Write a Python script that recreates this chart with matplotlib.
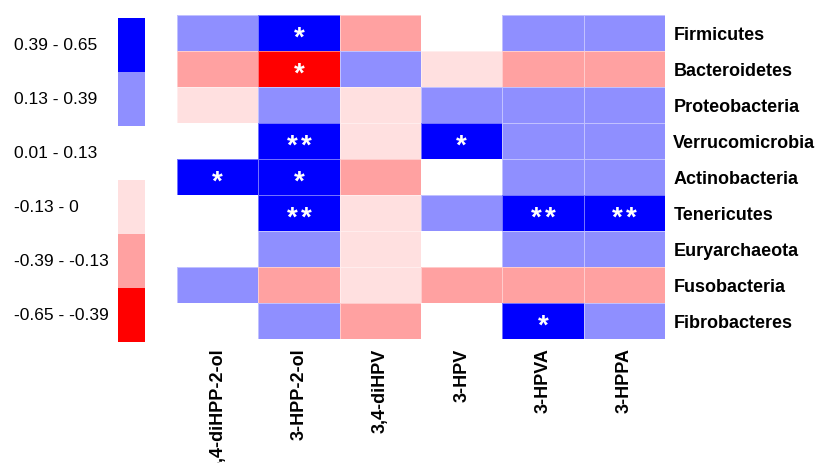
import matplotlib
matplotlib.use("Agg")
import matplotlib.pyplot as plt
import numpy as np
from matplotlib.colors import ListedColormap, BoundaryNorm

plt.rcParams['font.family'] = ['Liberation Sans', 'DejaVu Sans']

phyla = ["Firmicutes", "Bacteroidetes", "Proteobacteria", "Verrucomicrobia",
         "Actinobacteria", "Tenericutes", "Euryarchaeota", "Fusobacteria",
         "Fibrobacteres"]
metabolites = ["3,4-diHPP-2-ol", "3-HPP-2-ol", "3,4-diHPV", "3-HPV",
               "3-HPVA", "3-HPPA"]

# Spearman correlation, one row per phylum (columns follow `metabolites`)
rho_firmicutes = [0.22, 0.45, -0.21, 0.05, 0.24, 0.27]
rho_bacteroidetes = [-0.24, -0.47, 0.19, -0.08, -0.22, -0.26]
rho_proteobacteria = [-0.07, 0.28, -0.05, 0.21, 0.26, 0.23]
rho_verrucomicrobia = [0.06, 0.52, -0.09, 0.43, 0.31, 0.29]
rho_actinobacteria = [0.41, 0.44, -0.19, 0.08, 0.25, 0.27]
rho_tenericutes = [0.09, 0.53, -0.04, 0.24, 0.55, 0.54]
rho_euryarchaeota = [0.03, 0.22, -0.06, 0.07, 0.20, 0.24]
rho_fusobacteria = [0.17, -0.20, -0.10, -0.23, -0.28, -0.25]
rho_fibrobacteres = [0.04, 0.18, -0.24, 0.10, 0.42, 0.21]

# significance marks
sig_firmicutes = ["", "*", "", "", "", ""]
sig_bacteroidetes = ["", "*", "", "", "", ""]
sig_proteobacteria = ["", "", "", "", "", ""]
sig_verrucomicrobia = ["", "**", "", "*", "", ""]
sig_actinobacteria = ["*", "*", "", "", "", ""]
sig_tenericutes = ["", "**", "", "", "**", "**"]
sig_euryarchaeota = ["", "", "", "", "", ""]
sig_fusobacteria = ["", "", "", "", "", ""]
sig_fibrobacteres = ["", "", "", "", "*", ""]

bin_edges = [-0.65, -0.39, -0.13, 0.0, 0.13, 0.39, 0.65]
bin_labels = ["-0.65 - -0.39", "-0.39 - -0.13", "-0.13 - 0",
              "0.01 - 0.13", "0.13 - 0.39", "0.39 - 0.65"]
bin_colors = ["#FF0000", "#FFA1A1", "#FFE0E0", "#FFFFFF", "#8F8FFF", "#0000FF"]

rho = np.array([rho_firmicutes, rho_bacteroidetes, rho_proteobacteria,
                rho_verrucomicrobia, rho_actinobacteria, rho_tenericutes,
                rho_euryarchaeota, rho_fusobacteria, rho_fibrobacteres])
sig = [sig_firmicutes, sig_bacteroidetes, sig_proteobacteria,
       sig_verrucomicrobia, sig_actinobacteria, sig_tenericutes,
       sig_euryarchaeota, sig_fusobacteria, sig_fibrobacteres]

cmap = ListedColormap(bin_colors)
norm = BoundaryNorm(bin_edges, cmap.N)

fig = plt.figure(figsize=(8.16, 4.64), dpi=100)

# heatmap
ax = fig.add_axes([177 / 816, 1 - 340 / 464, 488 / 816, 324 / 464])
ax.pcolormesh(rho, cmap=cmap, norm=norm, edgecolors=(1, 1, 1, 0.45),
              linewidth=0.7)
ax.set_xlim(0, len(metabolites))
ax.set_ylim(len(phyla), 0)
star_gap = 14 / 81  # spacing between stacked asterisks, in column units
for i in range(len(phyla)):
    for j in range(len(metabolites)):
        n = len(sig[i][j])
        for k in range(n):
            dx = (k - (n - 1) / 2) * star_gap
            ax.text(j + 0.5 + dx, i + 0.64, "*", ha="center", va="center",
                    color="white", fontsize=20, fontweight="bold")
ax.set_xticks(np.arange(len(metabolites)) + 0.5)
ax.set_xticklabels(metabolites, rotation=90, fontsize=13, fontweight="bold")
ax.set_yticks(np.arange(len(phyla)) + 0.5)
ax.set_yticklabels(phyla, fontsize=13, fontweight="bold")
ax.yaxis.tick_right()
ax.tick_params(length=0, pad=6)
ax.tick_params(axis="x", pad=6)
for s in ax.spines.values():
    s.set_visible(False)

# legend strip
lax = fig.add_axes([118 / 816, 1 - 343 / 464, 27 / 816, 324 / 464])
levels = np.array([[(bin_edges[k] + bin_edges[k + 1]) / 2]
                   for k in range(len(bin_labels))])
lax.pcolormesh(levels, cmap=cmap, norm=norm)
lax.set_xlim(0, 1)
lax.set_ylim(0, len(bin_labels))
lax.set_xticks([])
lax.set_yticks([])
for s in lax.spines.values():
    s.set_visible(False)
for k, lab in enumerate(bin_labels):
    lax.text(-104 / 27, k + 0.5, lab, ha="left", va="center", fontsize=12.5,
             transform=lax.transData)

fig.savefig("out.png", dpi=100)
